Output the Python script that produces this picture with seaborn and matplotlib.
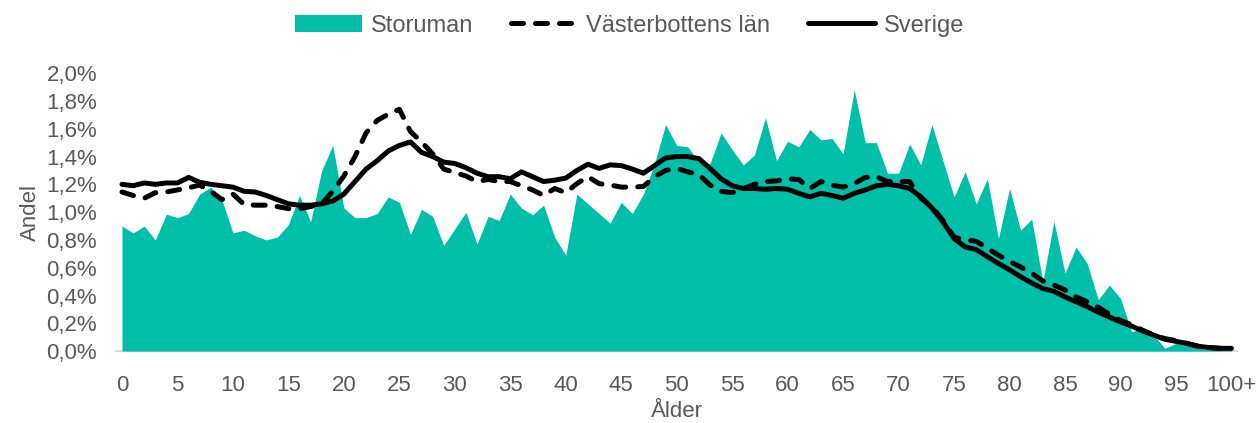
import matplotlib
matplotlib.use("Agg")
import matplotlib.pyplot as plt
import seaborn as sns
import numpy as np
import pandas as pd

ages = list(range(0, 101))
tick_positions = list(range(0, 101, 5))
tick_labels = [str(v) for v in range(0, 100, 5)] + ["100+"]

storuman = [0.90, 0.85, 0.90, 0.80, 0.985, 0.96, 0.99, 1.13, 1.18, 1.09,
            0.85, 0.87, 0.83, 0.80, 0.82, 0.91, 1.12, 0.93, 1.30, 1.48,
            1.03, 0.96, 0.96, 0.99, 1.11, 1.07, 0.84, 1.02, 0.97, 0.76,
            0.88, 1.00, 0.77, 0.97, 0.94, 1.13, 1.03, 0.98, 1.05, 0.82,
            0.69, 1.13, 1.06, 0.99, 0.92, 1.07, 0.99, 1.13, 1.35, 1.63,
            1.48, 1.47, 1.36, 1.35, 1.57, 1.45, 1.34, 1.41, 1.68, 1.37,
            1.51, 1.47, 1.595, 1.52, 1.53, 1.42, 1.88, 1.50, 1.50, 1.28,
            1.28, 1.49, 1.34, 1.63, 1.37, 1.11, 1.29, 1.06, 1.24, 0.81,
            1.17, 0.87, 0.95, 0.50, 0.935, 0.56, 0.75, 0.63, 0.37, 0.475,
            0.38, 0.14, 0.16, 0.115, 0.02, 0.055, 0.04, 0.02, 0.01, 0.01,
            0.01]

vasterbotten = [1.145, 1.12, 1.10, 1.14, 1.145, 1.16, 1.175, 1.195, 1.15, 1.09,
                1.13, 1.055, 1.05, 1.05, 1.04, 1.025, 1.025, 1.04, 1.06, 1.15,
                1.26, 1.40, 1.57, 1.66, 1.705, 1.74, 1.58, 1.505, 1.42, 1.31,
                1.285, 1.26, 1.22, 1.235, 1.22, 1.22, 1.19, 1.16, 1.12, 1.17,
                1.14, 1.205, 1.255, 1.205, 1.195, 1.18, 1.18, 1.185, 1.255, 1.30,
                1.315, 1.29, 1.27, 1.195, 1.15, 1.14, 1.17, 1.20, 1.22, 1.225,
                1.24, 1.235, 1.17, 1.22, 1.195, 1.18, 1.205, 1.25, 1.255, 1.22,
                1.22, 1.22, 1.10, 1.04, 0.94, 0.82, 0.80, 0.79, 0.74, 0.69,
                0.645, 0.605, 0.56, 0.505, 0.475, 0.44, 0.39, 0.355, 0.315, 0.265,
                0.22, 0.19, 0.15, 0.115, 0.09, 0.075, 0.055, 0.035, 0.025, 0.02,
                0.02]

sverige = [1.20, 1.19, 1.21, 1.20, 1.21, 1.21, 1.25, 1.215, 1.20, 1.19,
           1.18, 1.15, 1.145, 1.12, 1.09, 1.06, 1.05, 1.05, 1.06, 1.08,
           1.13, 1.22, 1.31, 1.37, 1.44, 1.48, 1.505, 1.43, 1.40, 1.36,
           1.35, 1.32, 1.28, 1.255, 1.255, 1.24, 1.29, 1.255, 1.22, 1.23,
           1.245, 1.30, 1.345, 1.315, 1.34, 1.335, 1.31, 1.28, 1.335, 1.39,
           1.40, 1.40, 1.385, 1.315, 1.24, 1.19, 1.17, 1.17, 1.165, 1.17,
           1.165, 1.135, 1.11, 1.135, 1.12, 1.10, 1.135, 1.16, 1.19, 1.20,
           1.19, 1.17, 1.11, 1.03, 0.93, 0.81, 0.75, 0.73, 0.68, 0.63,
           0.585, 0.535, 0.49, 0.45, 0.43, 0.39, 0.355, 0.32, 0.28, 0.245,
           0.21, 0.18, 0.145, 0.115, 0.085, 0.07, 0.055, 0.035, 0.025, 0.02,
           0.02]

df = pd.DataFrame({"age": ages, "Storuman": storuman,
                   "Västerbottens län": vasterbotten, "Sverige": sverige})

sns.set_theme(style="white")
plt.rcParams["font.family"] = ["Liberation Sans", "DejaVu Sans"]
gray = "#595959"
teal = "#00BFA9"

fig = plt.figure(figsize=(12.59, 4.23), dpi=100)
ax = fig.add_axes([0.0925, 0.170, 0.890, 0.657])

ax.fill_between(df["age"], 0, df["Storuman"], color=teal, linewidth=0,
                label="Storuman", zorder=1)
sns.lineplot(data=df, x="age", y="Västerbottens län", ax=ax, color="black",
             linewidth=3.6, label="Västerbottens län", zorder=3,
             dashes=False)
ax.lines[-1].set_dashes((2.4, 2.4))
ax.lines[-1].set_dash_capstyle("round")
sns.lineplot(data=df, x="age", y="Sverige", ax=ax, color="black",
             linewidth=3.6, label="Sverige", zorder=4)
ax.lines[-1].set_solid_capstyle("round")

ax.set_xlim(-0.5, 100.5)
ax.set_ylim(0, 2.0)
ax.set_xticks(tick_positions)
ax.set_xticklabels(tick_labels)
yt = np.round(np.arange(0, 2.01, 0.2), 1)
ax.set_yticks(yt)
ax.set_yticklabels([f"{v:.1f}%".replace(".", ",") for v in yt])
ax.tick_params(axis="both", length=0, labelsize=16, colors=gray)
ax.tick_params(axis="y", pad=14)
ax.tick_params(axis="x", pad=17)

for s in ["top", "right", "left"]:
    ax.spines[s].set_visible(False)
ax.spines["bottom"].set_color("#D9D9D9")
ax.spines["bottom"].set_linewidth(1.5)
ax.spines["bottom"].set_zorder(0)

ax.set_xlabel("Ålder", fontsize=16, color=gray, labelpad=4)
ax.set_ylabel("Andel", fontsize=16, color=gray, labelpad=4)
ax.grid(False)

leg = ax.legend(loc="upper center", ncol=3,
                frameon=False, fontsize=17, handlelength=2.85,
                handletextpad=0.35, columnspacing=1.6, borderaxespad=0)
for t in leg.get_texts():
    t.set_color(gray)
leg.set_bbox_to_anchor((0.5, 0.988), transform=fig.transFigure)

fig.savefig("out.png", dpi=100)
